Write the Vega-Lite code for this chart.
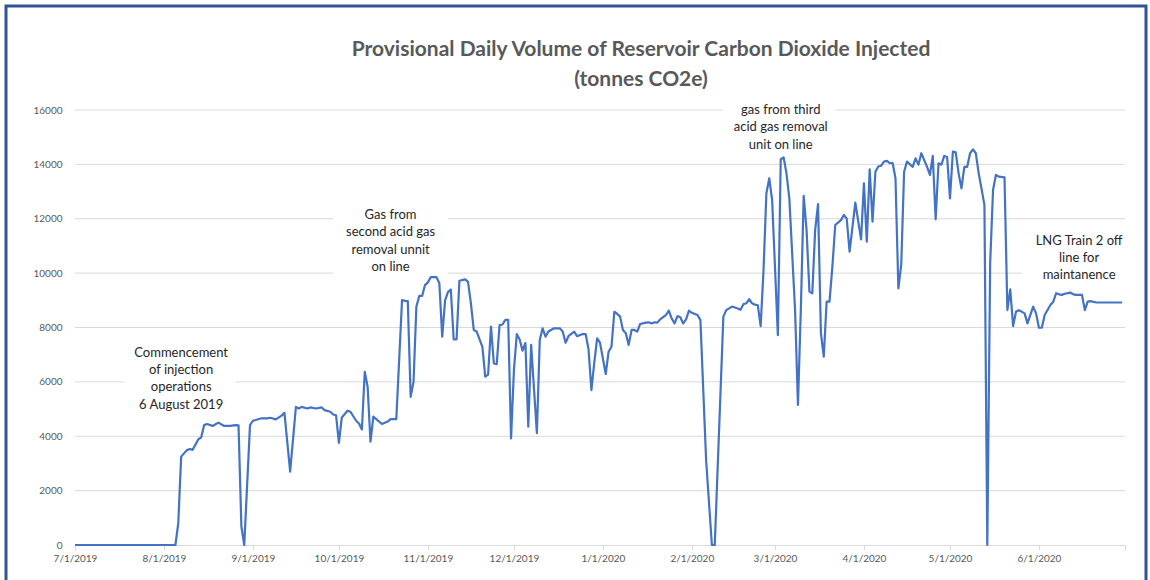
{
  "$schema": "https://vega.github.io/schema/vega-lite/v6.json",
  "width": 1140,
  "height": 582,
  "autosize": {"type": "none"},
  "padding": {"left": 6, "top": 6, "right": 4, "bottom": -8},
  "background": "white",
  "config": {
    "view": {"stroke": "#2f5597", "strokeWidth": 3},
    "axis": {"labelFont": "Lato", "labelFontSize": 10, "labelColor": "#595959", "title": null, "grid": false}
  },
  "title": {
    "text": ["Provisional Daily Volume of Reservoir Carbon Dioxide Injected", "(tonnes CO2e)"],
    "anchor": "middle",
    "frame": "group",
    "dx": 65,
    "offset": -84,
    "font": "Lato",
    "fontSize": 21,
    "fontWeight": "bold",
    "color": "#595959",
    "lineHeight": 30
  },
  "datasets": {
    "grid": [
      {"v": 2000, "s": "2019-07-01", "e": "2020-07-01"},
      {"v": 4000, "s": "2019-07-01", "e": "2020-07-01"},
      {"v": 6000, "s": "2019-07-01", "e": "2019-07-18"},
      {"v": 6000, "s": "2019-08-26", "e": "2020-07-01"},
      {"v": 8000, "s": "2019-07-01", "e": "2020-07-01"},
      {"v": 10000, "s": "2019-07-01", "e": "2019-09-29"},
      {"v": 10000, "s": "2019-11-08", "e": "2020-05-26"},
      {"v": 12000, "s": "2019-07-01", "e": "2019-09-29"},
      {"v": 12000, "s": "2019-11-08", "e": "2020-07-01"},
      {"v": 14000, "s": "2019-07-01", "e": "2020-07-01"},
      {"v": 16000, "s": "2019-07-01", "e": "2020-02-12"},
      {"v": 16000, "s": "2020-03-22", "e": "2020-07-01"}
    ],
    "notes": [
      {"date": "2019-08-07", "v": 7070, "label": "Commencement\nof injection\noperations\n6 August 2019"},
      {"date": "2019-10-19", "v": 12140, "label": "Gas from\nsecond acid gas\nremoval unnit\non line"},
      {"date": "2020-03-03", "v": 16000, "label": "gas from third\nacid gas removal\nunit on line"},
      {"date": "2020-06-15", "v": 11190, "label": "LNG Train 2 off\nline for\nmaintanence"}
    ],
    "co2": [
      {"date": "2019-07-01", "v": 0},
      {"date": "2019-08-04", "v": 0},
      {"date": "2019-08-05", "v": 0},
      {"date": "2019-08-06", "v": 800},
      {"date": "2019-08-07", "v": 3250},
      {"date": "2019-08-09", "v": 3490},
      {"date": "2019-08-10", "v": 3530},
      {"date": "2019-08-11", "v": 3500},
      {"date": "2019-08-13", "v": 3890},
      {"date": "2019-08-14", "v": 3960},
      {"date": "2019-08-15", "v": 4410},
      {"date": "2019-08-16", "v": 4450},
      {"date": "2019-08-18", "v": 4380},
      {"date": "2019-08-19", "v": 4440},
      {"date": "2019-08-20", "v": 4500},
      {"date": "2019-08-22", "v": 4380},
      {"date": "2019-08-24", "v": 4380},
      {"date": "2019-08-26", "v": 4410},
      {"date": "2019-08-27", "v": 4400},
      {"date": "2019-08-28", "v": 670},
      {"date": "2019-08-29", "v": 0},
      {"date": "2019-08-31", "v": 4410},
      {"date": "2019-09-01", "v": 4570},
      {"date": "2019-09-02", "v": 4600},
      {"date": "2019-09-04", "v": 4660},
      {"date": "2019-09-06", "v": 4660},
      {"date": "2019-09-07", "v": 4680},
      {"date": "2019-09-09", "v": 4620},
      {"date": "2019-09-11", "v": 4760},
      {"date": "2019-09-12", "v": 4860},
      {"date": "2019-09-14", "v": 2700},
      {"date": "2019-09-16", "v": 5080},
      {"date": "2019-09-17", "v": 5020},
      {"date": "2019-09-18", "v": 5080},
      {"date": "2019-09-20", "v": 5020},
      {"date": "2019-09-21", "v": 5060},
      {"date": "2019-09-23", "v": 5020},
      {"date": "2019-09-25", "v": 5060},
      {"date": "2019-09-26", "v": 4960},
      {"date": "2019-09-28", "v": 4900},
      {"date": "2019-09-29", "v": 4800},
      {"date": "2019-09-30", "v": 4770},
      {"date": "2019-10-01", "v": 3760},
      {"date": "2019-10-02", "v": 4690},
      {"date": "2019-10-04", "v": 4940},
      {"date": "2019-10-05", "v": 4900},
      {"date": "2019-10-07", "v": 4570},
      {"date": "2019-10-08", "v": 4470},
      {"date": "2019-10-09", "v": 4250},
      {"date": "2019-10-10", "v": 6370},
      {"date": "2019-10-11", "v": 5820},
      {"date": "2019-10-12", "v": 3800},
      {"date": "2019-10-13", "v": 4720},
      {"date": "2019-10-14", "v": 4630},
      {"date": "2019-10-16", "v": 4450},
      {"date": "2019-10-18", "v": 4540},
      {"date": "2019-10-19", "v": 4630},
      {"date": "2019-10-21", "v": 4630},
      {"date": "2019-10-23", "v": 9010},
      {"date": "2019-10-24", "v": 8980},
      {"date": "2019-10-25", "v": 8970},
      {"date": "2019-10-26", "v": 5450},
      {"date": "2019-10-27", "v": 6010},
      {"date": "2019-10-28", "v": 8770},
      {"date": "2019-10-29", "v": 9160},
      {"date": "2019-10-30", "v": 9160},
      {"date": "2019-10-31", "v": 9560},
      {"date": "2019-11-01", "v": 9660},
      {"date": "2019-11-02", "v": 9850},
      {"date": "2019-11-04", "v": 9850},
      {"date": "2019-11-05", "v": 9630},
      {"date": "2019-11-06", "v": 7660},
      {"date": "2019-11-07", "v": 9000},
      {"date": "2019-11-08", "v": 9300},
      {"date": "2019-11-09", "v": 9400},
      {"date": "2019-11-10", "v": 7560},
      {"date": "2019-11-11", "v": 7560},
      {"date": "2019-11-12", "v": 9720},
      {"date": "2019-11-14", "v": 9770},
      {"date": "2019-11-15", "v": 9680},
      {"date": "2019-11-16", "v": 8890},
      {"date": "2019-11-17", "v": 7910},
      {"date": "2019-11-18", "v": 7850},
      {"date": "2019-11-20", "v": 7290},
      {"date": "2019-11-21", "v": 6190},
      {"date": "2019-11-22", "v": 6270},
      {"date": "2019-11-23", "v": 8030},
      {"date": "2019-11-24", "v": 6680},
      {"date": "2019-11-25", "v": 6650},
      {"date": "2019-11-26", "v": 8090},
      {"date": "2019-11-27", "v": 8110},
      {"date": "2019-11-28", "v": 8280},
      {"date": "2019-11-29", "v": 8280},
      {"date": "2019-11-30", "v": 3920},
      {"date": "2019-12-01", "v": 6440},
      {"date": "2019-12-02", "v": 7760},
      {"date": "2019-12-03", "v": 7560},
      {"date": "2019-12-04", "v": 7150},
      {"date": "2019-12-05", "v": 7430},
      {"date": "2019-12-06", "v": 4350},
      {"date": "2019-12-07", "v": 7360},
      {"date": "2019-12-09", "v": 4110},
      {"date": "2019-12-10", "v": 7540},
      {"date": "2019-12-11", "v": 7970},
      {"date": "2019-12-12", "v": 7660},
      {"date": "2019-12-13", "v": 7850},
      {"date": "2019-12-15", "v": 7970},
      {"date": "2019-12-17", "v": 7970},
      {"date": "2019-12-18", "v": 7850},
      {"date": "2019-12-19", "v": 7440},
      {"date": "2019-12-20", "v": 7680},
      {"date": "2019-12-22", "v": 7850},
      {"date": "2019-12-23", "v": 7680},
      {"date": "2019-12-25", "v": 7760},
      {"date": "2019-12-26", "v": 7760},
      {"date": "2019-12-27", "v": 7200},
      {"date": "2019-12-28", "v": 5700},
      {"date": "2019-12-29", "v": 6700},
      {"date": "2019-12-30", "v": 7600},
      {"date": "2019-12-31", "v": 7440},
      {"date": "2020-01-02", "v": 6290},
      {"date": "2020-01-03", "v": 7110},
      {"date": "2020-01-04", "v": 7290},
      {"date": "2020-01-05", "v": 8580},
      {"date": "2020-01-06", "v": 8500},
      {"date": "2020-01-07", "v": 8400},
      {"date": "2020-01-08", "v": 7910},
      {"date": "2020-01-09", "v": 7790},
      {"date": "2020-01-10", "v": 7360},
      {"date": "2020-01-11", "v": 7910},
      {"date": "2020-01-12", "v": 7910},
      {"date": "2020-01-13", "v": 7850},
      {"date": "2020-01-14", "v": 8130},
      {"date": "2020-01-16", "v": 8180},
      {"date": "2020-01-17", "v": 8190},
      {"date": "2020-01-18", "v": 8150},
      {"date": "2020-01-19", "v": 8190},
      {"date": "2020-01-20", "v": 8180},
      {"date": "2020-01-21", "v": 8300},
      {"date": "2020-01-23", "v": 8460},
      {"date": "2020-01-24", "v": 8620},
      {"date": "2020-01-25", "v": 8330},
      {"date": "2020-01-26", "v": 8150},
      {"date": "2020-01-27", "v": 8420},
      {"date": "2020-01-28", "v": 8380},
      {"date": "2020-01-29", "v": 8150},
      {"date": "2020-01-30", "v": 8300},
      {"date": "2020-01-31", "v": 8620},
      {"date": "2020-02-01", "v": 8540},
      {"date": "2020-02-03", "v": 8460},
      {"date": "2020-02-04", "v": 8270},
      {"date": "2020-02-06", "v": 3100},
      {"date": "2020-02-08", "v": 0},
      {"date": "2020-02-09", "v": 0},
      {"date": "2020-02-12", "v": 8400},
      {"date": "2020-02-13", "v": 8640},
      {"date": "2020-02-15", "v": 8770},
      {"date": "2020-02-17", "v": 8700},
      {"date": "2020-02-18", "v": 8650},
      {"date": "2020-02-19", "v": 8860},
      {"date": "2020-02-20", "v": 8890},
      {"date": "2020-02-21", "v": 9040},
      {"date": "2020-02-22", "v": 8890},
      {"date": "2020-02-23", "v": 8840},
      {"date": "2020-02-24", "v": 8820},
      {"date": "2020-02-25", "v": 8050},
      {"date": "2020-02-26", "v": 10110},
      {"date": "2020-02-27", "v": 12940},
      {"date": "2020-02-28", "v": 13490},
      {"date": "2020-02-29", "v": 12690},
      {"date": "2020-03-02", "v": 7720},
      {"date": "2020-03-03", "v": 14190},
      {"date": "2020-03-04", "v": 14260},
      {"date": "2020-03-05", "v": 13670},
      {"date": "2020-03-06", "v": 12750},
      {"date": "2020-03-08", "v": 8640},
      {"date": "2020-03-09", "v": 5150},
      {"date": "2020-03-10", "v": 8640},
      {"date": "2020-03-11", "v": 12840},
      {"date": "2020-03-12", "v": 11590},
      {"date": "2020-03-13", "v": 9320},
      {"date": "2020-03-14", "v": 9260},
      {"date": "2020-03-15", "v": 11590},
      {"date": "2020-03-16", "v": 12540},
      {"date": "2020-03-17", "v": 7790},
      {"date": "2020-03-18", "v": 6930},
      {"date": "2020-03-19", "v": 8950},
      {"date": "2020-03-20", "v": 8950},
      {"date": "2020-03-21", "v": 10240},
      {"date": "2020-03-22", "v": 11770},
      {"date": "2020-03-24", "v": 11950},
      {"date": "2020-03-25", "v": 12140},
      {"date": "2020-03-26", "v": 12000},
      {"date": "2020-03-27", "v": 10790},
      {"date": "2020-03-29", "v": 12590},
      {"date": "2020-03-31", "v": 11240},
      {"date": "2020-04-01", "v": 13300},
      {"date": "2020-04-02", "v": 11160},
      {"date": "2020-04-03", "v": 13820},
      {"date": "2020-04-04", "v": 11890},
      {"date": "2020-04-05", "v": 13730},
      {"date": "2020-04-06", "v": 13920},
      {"date": "2020-04-07", "v": 13950},
      {"date": "2020-04-08", "v": 14100},
      {"date": "2020-04-09", "v": 14130},
      {"date": "2020-04-10", "v": 14050},
      {"date": "2020-04-11", "v": 14050},
      {"date": "2020-04-12", "v": 13490},
      {"date": "2020-04-13", "v": 9440},
      {"date": "2020-04-14", "v": 10300},
      {"date": "2020-04-15", "v": 13730},
      {"date": "2020-04-16", "v": 14100},
      {"date": "2020-04-18", "v": 13910},
      {"date": "2020-04-19", "v": 14220},
      {"date": "2020-04-20", "v": 13990},
      {"date": "2020-04-21", "v": 14410},
      {"date": "2020-04-23", "v": 13910},
      {"date": "2020-04-24", "v": 13610},
      {"date": "2020-04-25", "v": 14310},
      {"date": "2020-04-26", "v": 11980},
      {"date": "2020-04-27", "v": 14040},
      {"date": "2020-04-28", "v": 13990},
      {"date": "2020-04-29", "v": 14310},
      {"date": "2020-04-30", "v": 14270},
      {"date": "2020-05-01", "v": 12750},
      {"date": "2020-05-02", "v": 14470},
      {"date": "2020-05-03", "v": 14440},
      {"date": "2020-05-04", "v": 13670},
      {"date": "2020-05-05", "v": 13120},
      {"date": "2020-05-06", "v": 13910},
      {"date": "2020-05-07", "v": 13910},
      {"date": "2020-05-08", "v": 14410},
      {"date": "2020-05-09", "v": 14550},
      {"date": "2020-05-10", "v": 14410},
      {"date": "2020-05-11", "v": 13670},
      {"date": "2020-05-12", "v": 13100},
      {"date": "2020-05-13", "v": 12510},
      {"date": "2020-05-14", "v": 0},
      {"date": "2020-05-15", "v": 10360},
      {"date": "2020-05-16", "v": 13060},
      {"date": "2020-05-17", "v": 13610},
      {"date": "2020-05-18", "v": 13550},
      {"date": "2020-05-20", "v": 13520},
      {"date": "2020-05-21", "v": 8640},
      {"date": "2020-05-22", "v": 9400},
      {"date": "2020-05-23", "v": 8050},
      {"date": "2020-05-24", "v": 8580},
      {"date": "2020-05-25", "v": 8640},
      {"date": "2020-05-27", "v": 8520},
      {"date": "2020-05-28", "v": 8150},
      {"date": "2020-05-30", "v": 8770},
      {"date": "2020-05-31", "v": 8520},
      {"date": "2020-06-01", "v": 7990},
      {"date": "2020-06-02", "v": 7990},
      {"date": "2020-06-03", "v": 8460},
      {"date": "2020-06-05", "v": 8830},
      {"date": "2020-06-06", "v": 8950},
      {"date": "2020-06-07", "v": 9260},
      {"date": "2020-06-08", "v": 9220},
      {"date": "2020-06-09", "v": 9200},
      {"date": "2020-06-10", "v": 9240},
      {"date": "2020-06-12", "v": 9280},
      {"date": "2020-06-13", "v": 9220},
      {"date": "2020-06-14", "v": 9200},
      {"date": "2020-06-16", "v": 9200},
      {"date": "2020-06-17", "v": 8640},
      {"date": "2020-06-18", "v": 8950},
      {"date": "2020-06-19", "v": 8970},
      {"date": "2020-06-21", "v": 8920},
      {"date": "2020-06-30", "v": 8920}
    ]
  },
  "encoding": {
    "x": {
      "field": "date",
      "type": "temporal",
      "scale": {
        "type": "utc",
        "domain": [{"year": 2019, "month": "Jul", "date": 1, "utc": true}, {"year": 2020, "month": "Jul", "date": 1, "utc": true}],
        "range": [69, 1119]
      },
      "axis": {
        "orient": "bottom",
        "offset": -43,
        "values": [
          {"year": 2019, "month": "Jul", "date": 1, "utc": true},
          {"year": 2019, "month": "Aug", "date": 1, "utc": true},
          {"year": 2019, "month": "Sep", "date": 1, "utc": true},
          {"year": 2019, "month": "Oct", "date": 1, "utc": true},
          {"year": 2019, "month": "Nov", "date": 1, "utc": true},
          {"year": 2019, "month": "Dec", "date": 1, "utc": true},
          {"year": 2020, "month": "Jan", "date": 1, "utc": true},
          {"year": 2020, "month": "Feb", "date": 1, "utc": true},
          {"year": 2020, "month": "Mar", "date": 1, "utc": true},
          {"year": 2020, "month": "Apr", "date": 1, "utc": true},
          {"year": 2020, "month": "May", "date": 1, "utc": true},
          {"year": 2020, "month": "Jun", "date": 1, "utc": true},
          {"year": 2020, "month": "Jul", "date": 1, "utc": true}
        ],
        "labelExpr": "datum.value > 1592000000000 ? '' : utcFormat(datum.value, '%-m/%-d/%Y')",
        "domainColor": "#d9d9d9",
        "tickColor": "#d9d9d9",
        "tickSize": 5,
        "labelPadding": 3,
        "labelFlush": false,
        "labelOverlap": false
      }
    },
    "y": {
      "field": "v",
      "type": "quantitative",
      "scale": {"domain": [0, 16000], "range": [539, 104], "nice": false, "zero": false},
      "axis": {
        "orient": "left",
        "offset": -61,
        "values": [0, 2000, 4000, 6000, 8000, 10000, 12000, 14000, 16000],
        "domain": false,
        "ticks": false,
        "tickSize": 0,
        "labelPadding": 5,
        "format": "d"
      }
    }
  },
  "layer": [
    {
      "data": {"name": "grid"},
      "mark": {"type": "rule", "color": "#d9d9d9", "strokeWidth": 1},
      "encoding": {
        "x": {"field": "s", "type": "temporal"},
        "x2": {"field": "e"},
        "y": {"field": "v", "type": "quantitative"}
      }
    },
    {
      "data": {"name": "co2"},
      "mark": {"type": "line", "color": "#4472c4", "strokeWidth": 2.2, "strokeJoin": "round"}
    },
    {
      "data": {"name": "notes"},
      "mark": {"type": "text", "font": "Lato", "fontSize": 13, "color": "#262626", "lineBreak": "\n", "lineHeight": 17.3, "align": "center", "baseline": "middle"},
      "encoding": {
        "text": {"field": "label"}
      }
    }
  ]
}
